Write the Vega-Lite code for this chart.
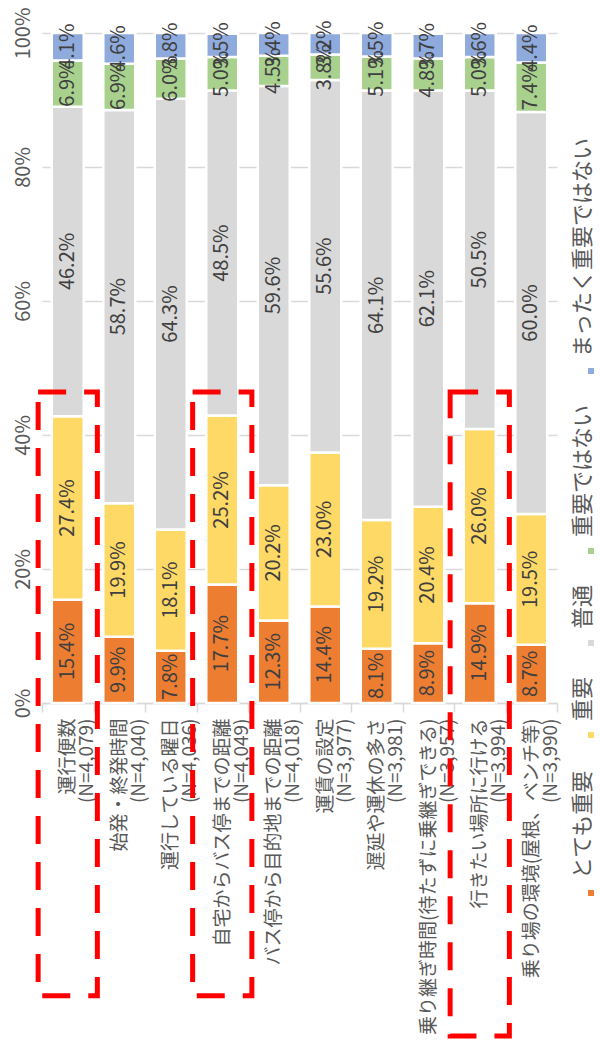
{
  "$schema": "https://vega.github.io/schema/vega-lite/v6.json",
  "width": 515,
  "height": 670,
  "autosize": {"type": "none"},
  "padding": {"left": 42, "top": 33, "right": 43, "bottom": 359},
  "config": {
    "view": {"stroke": null},
    "font": "Noto Sans CJK JP"
  },
  "datasets": {
    "shares": [
      {"item": "運行便数\n(N=4,079)", "level": "とても重要", "rank": 1, "share": 0.154},
      {"item": "運行便数\n(N=4,079)", "level": "重要", "rank": 2, "share": 0.274},
      {"item": "運行便数\n(N=4,079)", "level": "普通", "rank": 3, "share": 0.462},
      {"item": "運行便数\n(N=4,079)", "level": "重要ではない", "rank": 4, "share": 0.069},
      {"item": "運行便数\n(N=4,079)", "level": "まったく重要ではない", "rank": 5, "share": 0.041},
      {"item": "始発・終発時間\n(N=4,040)", "level": "とても重要", "rank": 1, "share": 0.099},
      {"item": "始発・終発時間\n(N=4,040)", "level": "重要", "rank": 2, "share": 0.199},
      {"item": "始発・終発時間\n(N=4,040)", "level": "普通", "rank": 3, "share": 0.587},
      {"item": "始発・終発時間\n(N=4,040)", "level": "重要ではない", "rank": 4, "share": 0.069},
      {"item": "始発・終発時間\n(N=4,040)", "level": "まったく重要ではない", "rank": 5, "share": 0.046},
      {"item": "運行している曜日\n(N=4,036)", "level": "とても重要", "rank": 1, "share": 0.078},
      {"item": "運行している曜日\n(N=4,036)", "level": "重要", "rank": 2, "share": 0.181},
      {"item": "運行している曜日\n(N=4,036)", "level": "普通", "rank": 3, "share": 0.643},
      {"item": "運行している曜日\n(N=4,036)", "level": "重要ではない", "rank": 4, "share": 0.060},
      {"item": "運行している曜日\n(N=4,036)", "level": "まったく重要ではない", "rank": 5, "share": 0.038},
      {"item": "自宅からバス停までの距離\n(N=4,049)", "level": "とても重要", "rank": 1, "share": 0.177},
      {"item": "自宅からバス停までの距離\n(N=4,049)", "level": "重要", "rank": 2, "share": 0.252},
      {"item": "自宅からバス停までの距離\n(N=4,049)", "level": "普通", "rank": 3, "share": 0.485},
      {"item": "自宅からバス停までの距離\n(N=4,049)", "level": "重要ではない", "rank": 4, "share": 0.050},
      {"item": "自宅からバス停までの距離\n(N=4,049)", "level": "まったく重要ではない", "rank": 5, "share": 0.035},
      {"item": "バス停から目的地までの距離\n(N=4,018)", "level": "とても重要", "rank": 1, "share": 0.123},
      {"item": "バス停から目的地までの距離\n(N=4,018)", "level": "重要", "rank": 2, "share": 0.202},
      {"item": "バス停から目的地までの距離\n(N=4,018)", "level": "普通", "rank": 3, "share": 0.596},
      {"item": "バス停から目的地までの距離\n(N=4,018)", "level": "重要ではない", "rank": 4, "share": 0.045},
      {"item": "バス停から目的地までの距離\n(N=4,018)", "level": "まったく重要ではない", "rank": 5, "share": 0.034},
      {"item": "運賃の設定\n(N=3,977)", "level": "とても重要", "rank": 1, "share": 0.144},
      {"item": "運賃の設定\n(N=3,977)", "level": "重要", "rank": 2, "share": 0.230},
      {"item": "運賃の設定\n(N=3,977)", "level": "普通", "rank": 3, "share": 0.556},
      {"item": "運賃の設定\n(N=3,977)", "level": "重要ではない", "rank": 4, "share": 0.038},
      {"item": "運賃の設定\n(N=3,977)", "level": "まったく重要ではない", "rank": 5, "share": 0.032},
      {"item": "遅延や運休の多さ\n(N=3,981)", "level": "とても重要", "rank": 1, "share": 0.081},
      {"item": "遅延や運休の多さ\n(N=3,981)", "level": "重要", "rank": 2, "share": 0.192},
      {"item": "遅延や運休の多さ\n(N=3,981)", "level": "普通", "rank": 3, "share": 0.641},
      {"item": "遅延や運休の多さ\n(N=3,981)", "level": "重要ではない", "rank": 4, "share": 0.051},
      {"item": "遅延や運休の多さ\n(N=3,981)", "level": "まったく重要ではない", "rank": 5, "share": 0.035},
      {"item": "乗り継ぎ時間(待たずに乗継ぎできる)\n(N=3,957)", "level": "とても重要", "rank": 1, "share": 0.089},
      {"item": "乗り継ぎ時間(待たずに乗継ぎできる)\n(N=3,957)", "level": "重要", "rank": 2, "share": 0.204},
      {"item": "乗り継ぎ時間(待たずに乗継ぎできる)\n(N=3,957)", "level": "普通", "rank": 3, "share": 0.621},
      {"item": "乗り継ぎ時間(待たずに乗継ぎできる)\n(N=3,957)", "level": "重要ではない", "rank": 4, "share": 0.048},
      {"item": "乗り継ぎ時間(待たずに乗継ぎできる)\n(N=3,957)", "level": "まったく重要ではない", "rank": 5, "share": 0.037},
      {"item": "行きたい場所に行ける\n(N=3,994)", "level": "とても重要", "rank": 1, "share": 0.149},
      {"item": "行きたい場所に行ける\n(N=3,994)", "level": "重要", "rank": 2, "share": 0.260},
      {"item": "行きたい場所に行ける\n(N=3,994)", "level": "普通", "rank": 3, "share": 0.505},
      {"item": "行きたい場所に行ける\n(N=3,994)", "level": "重要ではない", "rank": 4, "share": 0.050},
      {"item": "行きたい場所に行ける\n(N=3,994)", "level": "まったく重要ではない", "rank": 5, "share": 0.036},
      {"item": "乗り場の環境(屋根、ベンチ等)\n(N=3,990)", "level": "とても重要", "rank": 1, "share": 0.087},
      {"item": "乗り場の環境(屋根、ベンチ等)\n(N=3,990)", "level": "重要", "rank": 2, "share": 0.195},
      {"item": "乗り場の環境(屋根、ベンチ等)\n(N=3,990)", "level": "普通", "rank": 3, "share": 0.600},
      {"item": "乗り場の環境(屋根、ベンチ等)\n(N=3,990)", "level": "重要ではない", "rank": 4, "share": 0.074},
      {"item": "乗り場の環境(屋根、ベンチ等)\n(N=3,990)", "level": "まったく重要ではない", "rank": 5, "share": 0.044}
    ],
    "highlights": [
      {"item": "運行便数\n(N=4,079)", "top": 0.464, "bottom": -0.437},
      {"item": "自宅からバス停までの距離\n(N=4,049)", "top": 0.464, "bottom": -0.437},
      {"item": "行きたい場所に行ける\n(N=3,994)", "top": 0.464, "bottom": -0.497}
    ]
  },
  "layer": [
    {
      "data": {"name": "shares"},
      "mark": {"type": "bar", "width": {"band": 0.62}, "stroke": "#FFFFFF", "strokeWidth": 2.5},
      "encoding": {
        "x": {
          "field": "item",
          "type": "nominal",
          "sort": null,
          "scale": {"paddingInner": 0, "paddingOuter": 0},
          "axis": {
            "title": null,
            "labelExpr": "split(datum.label, '\\n')",
            "labelAngle": -90,
            "labelFontSize": 19,
            "labelLineHeight": 19,
            "labelColor": "#595959",
            "labelLimit": 400,
            "labelPadding": 6,
            "tickBand": "extent",
            "tickSize": 9,
            "tickColor": "#D9D9D9",
            "tickWidth": 1.5,
            "domainColor": "#D9D9D9",
            "domainWidth": 1.5,
            "grid": false
          }
        },
        "y": {
          "field": "share",
          "type": "quantitative",
          "stack": "zero",
          "scale": {"domain": [0, 1], "nice": false},
          "axis": {
            "title": null,
            "format": ".0%",
            "values": [0, 0.2, 0.4, 0.6, 0.8, 1],
            "labelAngle": -90,
            "labelAlign": "center",
            "labelBaseline": "bottom",
            "labelPadding": 9,
            "labelFontSize": 20,
            "labelColor": "#595959",
            "domain": false,
            "ticks": false,
            "grid": true,
            "gridColor": "#D9D9D9",
            "gridWidth": 1.3
          }
        },
        "color": {
          "field": "level",
          "type": "nominal",
          "scale": {
            "domain": ["まったく重要ではない", "重要ではない", "普通", "重要", "とても重要"],
            "range": ["#8FAADC", "#A9D18E", "#D9D9D9", "#FFD966", "#ED7D31"]
          },
          "legend": {
            "title": null,
            "orient": "none",
            "legendX": 538,
            "legendY": 327,
            "direction": "vertical",
            "padding": 0,
            "symbolType": "square",
            "symbolSize": 36,
            "symbolStrokeWidth": 0,
            "labelFontSize": 22,
            "labelColor": "#595959",
            "labelLimit": 400,
            "rowPadding": 30,
            "encoding": {
              "labels": {
                "angle": {"value": -90},
                "x": {"value": 3},
                "dx": {"value": 14},
                "align": {"value": "left"},
                "baseline": {"value": "middle"}
              }
            }
          }
        },
        "order": {"field": "rank", "type": "quantitative"}
      }
    },
    {
      "data": {"name": "shares"},
      "transform": [
        {"stack": "share", "groupby": ["item"], "sort": [{"field": "rank"}], "as": ["lo", "hi"]},
        {"calculate": "(datum.lo + datum.hi) / 2", "as": "mid"}
      ],
      "mark": {"type": "text", "angle": 270, "fontSize": 20, "color": "#404040"},
      "encoding": {
        "x": {"field": "item", "type": "nominal", "sort": null},
        "y": {"field": "mid", "type": "quantitative"},
        "text": {"field": "share", "type": "quantitative", "format": ".1%"}
      }
    },
    {
      "data": {"name": "highlights"},
      "mark": {
        "type": "bar",
        "width": {"band": 1.15},
        "fill": null,
        "stroke": "#FF0000",
        "strokeWidth": 5,
        "strokeDash": [28, 18],
        "clip": false
      },
      "encoding": {
        "x": {"field": "item", "type": "nominal", "sort": null},
        "y": {"field": "top", "type": "quantitative"},
        "y2": {"field": "bottom"}
      }
    }
  ]
}
